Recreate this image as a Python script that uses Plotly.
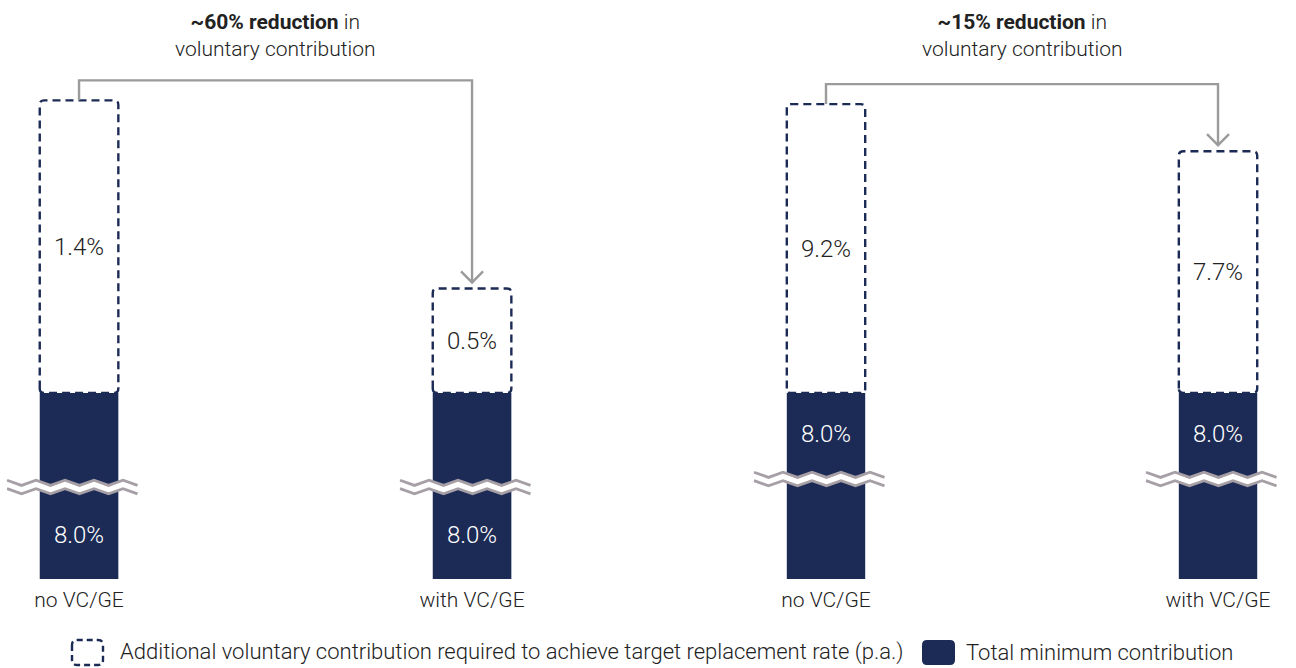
import plotly.graph_objects as go

# ---------------- data ----------------
categories = ["no VC/GE", "with VC/GE"]
min_contrib_left = [8.0, 8.0]
voluntary_left = [1.4, 0.5]
min_contrib_right = [8.0, 8.0]
voluntary_right = [9.2, 7.7]
reduction_labels = ["~60% reduction", "~15% reduction"]
reduction_suffix = " in"
reduction_subtitle = "voluntary contribution"
legend_labels = [
    "Additional voluntary contribution required to achieve target replacement rate (p.a.)",
    "Total minimum contribution",
]

# ---------------- style ----------------
W, H = 1296, 668
NAVY = "#1c2a56"
GRAY = "#9b9b9b"
BREAK_GRAY = "#a69fa5"
TEXT = "#222222"
FONT = "Roboto"
FS = 21
FS_LEG = 22
FS_VAL = 24
WEIGHT = 300
DASH = "8px,5px"

panels = [
    dict(xa="x", ya="y", mins=min_contrib_left, vols=voluntary_left, title=reduction_labels[0],
         xrange=[-0.195, 1.25], xdom=[2.4 / W, 570.3 / W], yrange=[7.11, 9.88],
         ppu=209.0, xppu=393.0, brk=7.55, label_below=True),
    dict(xa="x2", ya="y2", mins=min_contrib_right, vols=voluntary_right, title=reduction_labels[1],
         xrange=[-0.25, 1.19], xdom=[728.0 / W, 1292.5 / W], yrange=[2.076, 20.516],
         ppu=31.4, xppu=392.0, brk=5.26, label_below=False),
]
YDOM = [1 - 579.0 / H, 1.0]
BAR_W = 0.2

fig = go.Figure()
shapes = []
annotations = []


def rounded_rect_path(x0, y0, x1, y1, rx, ry, fx, fy):
    pts = [
        f"M {fx(x0)},{fy(y0 + ry)}",
        f"L {fx(x0)},{fy(y1 - ry)}",
        f"Q {fx(x0)},{fy(y1)} {fx(x0 + rx)},{fy(y1)}",
        f"L {fx(x1 - rx)},{fy(y1)}",
        f"Q {fx(x1)},{fy(y1)} {fx(x1)},{fy(y1 - ry)}",
        f"L {fx(x1)},{fy(y0 + ry)}",
        f"Q {fx(x1)},{fy(y0)} {fx(x1 - rx)},{fy(y0)}",
        f"L {fx(x0 + rx)},{fy(y0)}",
        f"Q {fx(x0)},{fy(y0)} {fx(x0)},{fy(y0 + ry)}",
        "Z",
    ]
    return " ".join(pts)


ident = lambda v: v

for p in panels:
    xs = list(range(len(categories)))
    xa, ya = p["xa"], p["ya"]
    ppu, xppu = p["ppu"], p["xppu"]

    fig.add_trace(go.Bar(
        x=xs, y=p["mins"], width=BAR_W, marker=dict(color=NAVY, line=dict(width=0)),
        xaxis=xa, yaxis=ya, hoverinfo="skip", showlegend=False,
    ))
    fig.add_trace(go.Bar(
        x=xs, y=p["vols"], base=p["mins"], width=BAR_W,
        marker=dict(color="rgba(0,0,0,0)", line=dict(width=0)),
        text=[f"{v:.1f}%" for v in p["vols"]], textposition="inside",
        insidetextanchor="middle", textangle=0,
        textfont=dict(family=FONT, size=FS_VAL, color=TEXT, weight=WEIGHT),
        xaxis=xa, yaxis=ya, hoverinfo="skip", showlegend=False,
    ))

    for i, (m, v) in enumerate(zip(p["mins"], p["vols"])):
        shapes.append(dict(
            type="path", xref=xa, yref=ya,
            path=rounded_rect_path(i - BAR_W / 2, m, i + BAR_W / 2, m + v,
                                   4.5 / xppu, 4.5 / ppu, ident, ident),
            line=dict(color=NAVY, width=2.4, dash=DASH), fillcolor="rgba(0,0,0,0)",
            layer="above",
        ))

        # axis-break zigzag
        hw = 72.0
        step = 14.5
        amp = 2.6
        gap = 4.2
        n = int(2 * hw / step)
        upper, lower = [], []
        for k in range(n + 1):
            px = -hw + k * step
            dy = amp if k % 2 == 0 else -amp
            upper.append((i + px / xppu, p["brk"] + (gap + dy) / ppu))
            lower.append((i + px / xppu, p["brk"] + (-gap + dy) / ppu))
        band = "M " + " L ".join(f"{x},{y}" for x, y in upper) + " L " + \
               " L ".join(f"{x},{y}" for x, y in reversed(lower)) + " Z"
        shapes.append(dict(type="path", xref=xa, yref=ya, path=band,
                           fillcolor="white", line=dict(width=0), layer="above"))
        for line_pts in (upper, lower):
            path = "M " + " L ".join(f"{x},{y}" for x, y in line_pts)
            shapes.append(dict(type="path", xref=xa, yref=ya, path=path,
                               line=dict(color=BREAK_GRAY, width=2.8), layer="above"))

        if p["label_below"]:
            ylab = (p["yrange"][0] + p["brk"] - gap / ppu) / 2
        else:
            ylab = (m + p["brk"] + gap / ppu) / 2
        annotations.append(dict(
            x=i, y=ylab, xref=xa, yref=ya, text=f"{m:.1f}%", showarrow=False,
            font=dict(family=FONT, size=FS_VAL, color="white", weight=WEIGHT),
            xanchor="center", yanchor="middle",
        ))

    # connector arrow
    top0 = p["mins"][0] + p["vols"][0]
    top1 = p["mins"][1] + p["vols"][1]
    conn = max(top0, top1) + 20.0 / ppu
    tip = top1 + 6.0 / ppu
    shapes.append(dict(
        type="path", xref=xa, yref=ya,
        path=f"M 0,{top0} L 0,{conn} L 1,{conn} L 1,{tip}",
        line=dict(color=GRAY, width=2.4), layer="above",
    ))
    shapes.append(dict(
        type="path", xref=xa, yref=ya,
        path=f"M {1 - 11 / xppu},{tip + 11 / ppu} L 1,{tip} L {1 + 11 / xppu},{tip + 11 / ppu}",
        line=dict(color=GRAY, width=2.4), layer="above",
    ))

    annotations.append(dict(
        x=0.5, xref=xa, y=1 - 35.0 / H, yref="paper",
        text=f"<b>{p['title']}</b>{reduction_suffix}<br>{reduction_subtitle}",
        showarrow=False, align="center", xanchor="center", yanchor="middle",
        font=dict(family=FONT, size=FS, color=TEXT, weight=WEIGHT),
    ))

# ---------------- legend (manual) ----------------
fx = lambda v: v / W
fy = lambda v: 1 - v / H
shapes.append(dict(
    type="path", xref="paper", yref="paper",
    path=rounded_rect_path(72, 640, 103, 665, 5, 5, fx, fy),
    line=dict(color=NAVY, width=2.4, dash="6px,4px"), fillcolor="rgba(0,0,0,0)",
))
shapes.append(dict(
    type="path", xref="paper", yref="paper",
    path=rounded_rect_path(922, 640, 955, 665, 5, 5, fx, fy),
    line=dict(color=NAVY, width=0), fillcolor=NAVY,
))
annotations.append(dict(
    x=118 / W, y=fy(652), xref="paper", yref="paper", text=legend_labels[0],
    showarrow=False, xanchor="left", yanchor="middle",
    font=dict(family=FONT, size=FS_LEG, color=TEXT, weight=WEIGHT),
))
annotations.append(dict(
    x=964 / W, y=fy(652), xref="paper", yref="paper", text=legend_labels[1],
    showarrow=False, xanchor="left", yanchor="middle",
    font=dict(family=FONT, size=FS_LEG, color=TEXT, weight=WEIGHT),
))

axis_common = dict(showgrid=False, zeroline=False, showline=False, ticks="", ticklabelstandoff=6)
tickfont = dict(family=FONT, size=FS, color=TEXT, weight=WEIGHT)
fig.update_layout(
    width=W, height=H,
    margin=dict(l=0, r=0, t=0, b=0),
    paper_bgcolor="white", plot_bgcolor="white",
    barmode="overlay", showlegend=False,
    font=dict(family=FONT, size=FS, color=TEXT),
    xaxis=dict(domain=panels[0]["xdom"], range=panels[0]["xrange"], anchor="y",
               tickvals=[0, 1], ticktext=categories, tickfont=tickfont, **axis_common),
    yaxis=dict(domain=YDOM, range=panels[0]["yrange"], anchor="x", visible=False),
    xaxis2=dict(domain=panels[1]["xdom"], range=panels[1]["xrange"], anchor="y2",
                tickvals=[0, 1], ticktext=categories, tickfont=tickfont, **axis_common),
    yaxis2=dict(domain=YDOM, range=panels[1]["yrange"], anchor="x2", visible=False),
    shapes=shapes,
    annotations=annotations,
)

fig.write_html(
    "out.html",
    config={"displayModeBar": False, "staticPlot": True},
    post_script="document.body.style.margin='0';document.body.style.overflow='hidden';",
)
